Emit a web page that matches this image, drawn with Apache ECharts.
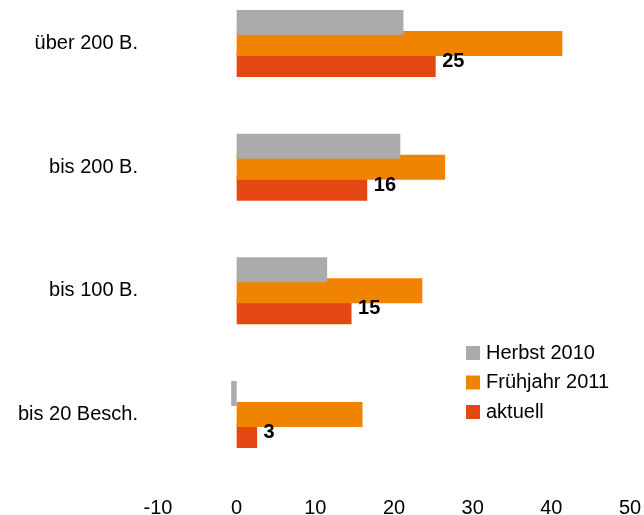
<!DOCTYPE html>
<html>
<head>
<meta charset="utf-8">
<script src="https://cdn.jsdelivr.net/npm/echarts@6/dist/echarts.min.js"></script>
<style>
  html, body { margin: 0; padding: 0; background: #fff; }
  #chart { width: 644px; height: 515px; }
</style>
</head>
<body>
<div id="chart"></div>
<script>
const categories = ['über 200 B.', 'bis 200 B.', 'bis 100 B.', 'bis 20 Besch.']
const herbst2010 = [21.2, 20.8, 11.5, -0.7]
const fruehjahr2011 = [41.4, 26.5, 23.6, 16.0]
const aktuell = [25.3, 16.6, 14.6, 2.6]
const aktuellLabels = ['25', '16', '15', '3']

const chart = echarts.init(document.getElementById('chart'))
const font = 'Liberation Sans, Arial, sans-serif'

chart.setOption({
  animation: false,
  textStyle: { fontFamily: font },
  legend: {
    orient: 'vertical',
    left: 466,
    top: 343,
    padding: 0,
    itemWidth: 14,
    itemHeight: 14,
    itemGap: 9.5,
    icon: 'rect',
    textStyle: { fontSize: 20, color: '#000', padding: [0, 0, 0, 1] },
    data: ['Herbst 2010', 'Frühjahr 2011', 'aktuell']
  },
  grid: {
    left: 158,
    right: 14,
    top: 43.5,
    bottom: 100.5,
    outerBoundsMode: 'none'
  },
  xAxis: {
    type: 'value',
    min: -10,
    max: 50,
    interval: 10,
    axisLine: { show: false },
    axisTick: { show: false },
    splitLine: { show: false },
    axisLabel: { fontSize: 20, color: '#000', margin: 84 }
  },
  yAxis: {
    type: 'category',
    inverse: true,
    boundaryGap: false,
    data: categories,
    axisLine: { show: false },
    axisTick: { show: false },
    splitLine: { show: false },
    axisLabel: { fontSize: 20, color: '#000', margin: 20 }
  },
  series: [
    {
      name: 'Herbst 2010',
      type: 'bar',
      z: 4,
      barWidth: 25,
      barGap: '-16%',
      itemStyle: { color: '#ababab' },
      data: herbst2010
    },
    {
      name: 'Frühjahr 2011',
      type: 'bar',
      z: 3,
      barWidth: 25,
      barGap: '-16%',
      itemStyle: { color: '#f08400' },
      data: fruehjahr2011
    },
    {
      name: 'aktuell',
      type: 'bar',
      z: 2,
      barWidth: 25,
      barGap: '-16%',
      itemStyle: { color: '#e54712' },
      data: aktuell
    },
    {
      // value labels of "aktuell", drawn above all bars
      type: 'scatter',
      z: 10,
      symbolSize: 1,
      itemStyle: { color: 'rgba(0,0,0,0)', opacity: 1 },
      label: {
        show: true,
        position: 'right',
        distance: 6,
        offset: [0, 18],
        fontSize: 20,
        fontWeight: 'bold',
        color: '#000',
        formatter: p => aktuellLabels[p.dataIndex]
      },
      data: aktuell.map((v, i) => [v, i])
    }
  ]
})
</script>
</body>
</html>
